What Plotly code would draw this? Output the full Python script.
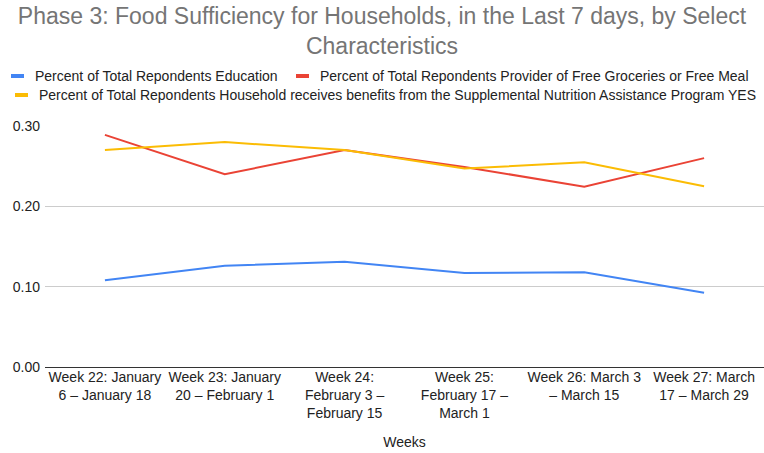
import plotly.graph_objects as go

weeks = [
    "Week 22: January<br>6 – January 18",
    "Week 23: January<br>20 – February 1",
    "Week 24:<br>February 3 –<br>February 15",
    "Week 25:<br>February 17 –<br>March 1",
    "Week 26: March 3<br>– March 15",
    "Week 27: March<br>17 – March 29",
]
education = [0.108, 0.126, 0.131, 0.117, 0.118, 0.0925]
free_meal = [0.289, 0.240, 0.270, 0.249, 0.2245, 0.260]
snap_yes = [0.270, 0.280, 0.270, 0.247, 0.255, 0.225]

names = [
    "Percent of Total Repondents Education",
    "Percent of Total Repondents Provider of Free Groceries or Free Meal",
    "Percent of Total Repondents Household receives benefits from the Supplemental Nutrition Assistance Program YES",
]
colors = ["#4285F4", "#EA4335", "#FBBC04"]
series = [education, free_meal, snap_yes]

W, H = 764, 453
ML, MR, MT, MB = 45, 0, 126, 86
PW, PH = W - ML - MR, H - MT - MB

def px(x):
    return (x - ML) / PW

def py(y):
    return (H - MB - y) / PH

fig = go.Figure()
for name, col, vals in zip(names, colors, series):
    fig.add_trace(go.Scatter(x=weeks, y=vals, mode="lines", name=name,
                             line=dict(color=col, width=2), showlegend=False))

# legend drawn as text + swatches (positions in pixels)
legend_pos = [(11, 76), (296, 76), (15, 95)]
for (lx, ly), name, col in zip(legend_pos, names, colors):
    fig.add_shape(type="rect", xref="paper", yref="paper",
                  x0=px(lx), x1=px(lx + 13), y0=py(ly + 2), y1=py(ly - 2),
                  fillcolor=col, line=dict(width=0))
    fig.add_annotation(text=name, xref="paper", yref="paper",
                       x=px(lx + 22), y=py(ly), xanchor="left", yanchor="middle",
                       showarrow=False, font=dict(size=14, color="#222222"))

fig.update_layout(
    width=W, height=H,
    margin=dict(l=ML, r=MR, t=MT, b=MB),
    paper_bgcolor="white", plot_bgcolor="white",
    showlegend=False,
    font=dict(family="Liberation Sans, Arial, sans-serif", size=14, color="#222222"),
    title=dict(text="Phase 3: Food Sufficiency for Households, in the Last 7 days, by Select<br>Characteristics",
               x=0.5, xanchor="center", y=1 - 24 / H, yanchor="middle",
               font=dict(size=23, color="#757575")),
    xaxis=dict(showgrid=False, showline=False, ticks="", tickfont=dict(size=14),
               title=dict(text="Weeks", font=dict(size=14), standoff=16),
               range=[-0.5, 5.5]),
    yaxis=dict(range=[0, 0.3], tickvals=[0, 0.1, 0.2, 0.3], tickformat=".2f",
               showgrid=True, gridcolor="#cccccc", gridwidth=1,
               zeroline=True, zerolinecolor="#333333", zerolinewidth=1,
               tickfont=dict(size=14), ticks="", ticklabelstandoff=4),
)
fig.write_html("out.html")
